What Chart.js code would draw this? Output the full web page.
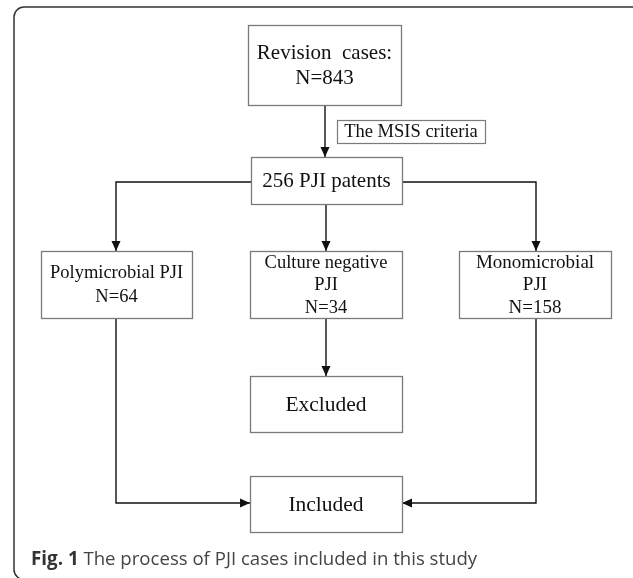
<!DOCTYPE html>
<html>
<head>
<meta charset="utf-8">
<script src="https://cdn.jsdelivr.net/npm/chart.js@4.4.1/dist/chart.umd.min.js"></script>
<style>
  html, body { margin: 0; padding: 0; background: #fff; }
  #wrap { width: 633px; height: 578px; }
</style>
</head>
<body>
<div id="wrap"><canvas id="flow" width="633" height="578"></canvas></div>
<script>
// Datos del diagrama
const stageNames = ['Revision  cases:', 'PJI patents', 'Polymicrobial PJI', 'Culture negative PJI', 'Monomicrobial PJI', 'Excluded', 'Included'];
const stageCounts = [843, 256, 64, 34, 158, null, null];
const criteriaLabel = 'The MSIS criteria';
const captionBold = 'Fig. 1';
const captionText = ' The process of PJI cases included in this study';

// Texto de cada caja (armado desde los datos)
const boxText = [
  [stageNames[0], 'N=' + stageCounts[0]],
  [stageCounts[1] + ' ' + stageNames[1]],
  [stageNames[2], 'N=' + stageCounts[2]],
  ['Culture negative', 'PJI', 'N=' + stageCounts[3]],
  ['Monomicrobial', 'PJI', 'N=' + stageCounts[4]],
  [stageNames[5]],
  [stageNames[6]]
];

// Posiciones de las cajas en unidades de la escala (x1, y1, x2, y2)
const layout = {
  boxes: [
    [248, 25, 401, 105],
    [251, 157, 402, 204],
    [41, 251, 192, 318],
    [250, 251, 402, 318],
    [459, 251, 611, 318],
    [250, 376, 402, 432],
    [250, 476, 402, 532]
  ],
  lineGap: [25, 0, 24, 22.5, 22.5, 0, 0],
  fontSize: [21, 21, 18.5, 18.5, 19, 21.5, 21.5],
  criteriaBox: [337, 120, 485, 143],
  connectors: [
    [[325, 105], [325, 157]],
    [[251, 182], [116, 182], [116, 251]],
    [[402, 182], [536, 182], [536, 251]],
    [[326, 204], [326, 251]],
    [[326, 318], [326, 376]],
    [[116, 318], [116, 503], [250, 503]],
    [[536, 318], [536, 503], [402, 503]]
  ]
};

const datasets = layout.connectors.map(function(pts) {
  return {
    data: pts.map(function(p) { return { x: p[0], y: p[1] }; }),
    showLine: true,
    borderColor: '#111',
    borderWidth: 1.4,
    pointRadius: 0,
    fill: false,
    tension: 0
  };
});

const flowPlugin = {
  id: 'flowPlugin',
  afterDatasetsDraw: function(chart) {
    const ctx = chart.ctx;
    const xs = chart.scales.x;
    const ys = chart.scales.y;
    const px = function(v) { return xs.getPixelForValue(v); };
    const py = function(v) { return ys.getPixelForValue(v); };

    ctx.save();

    // Marco exterior redondeado
    ctx.strokeStyle = '#333';
    ctx.lineWidth = 1.5;
    ctx.beginPath();
    ctx.roundRect(px(14), py(7), px(650) - px(14), py(579.5) - py(7), 10);
    ctx.stroke();

    // Puntas de flecha
    ctx.fillStyle = '#111';
    layout.connectors.forEach(function(pts) {
      const a = pts[pts.length - 2], b = pts[pts.length - 1];
      const x1 = px(a[0]), y1 = py(a[1]), x2 = px(b[0]), y2 = py(b[1]);
      const ang = Math.atan2(y2 - y1, x2 - x1);
      const len = 10, half = 4.5;
      ctx.beginPath();
      ctx.moveTo(x2, y2);
      ctx.lineTo(x2 - len * Math.cos(ang) + half * Math.sin(ang), y2 - len * Math.sin(ang) - half * Math.cos(ang));
      ctx.lineTo(x2 - len * Math.cos(ang) - half * Math.sin(ang), y2 - len * Math.sin(ang) + half * Math.cos(ang));
      ctx.closePath();
      ctx.fill();
    });

    // Cajas con texto
    ctx.textAlign = 'center';
    ctx.textBaseline = 'middle';
    layout.boxes.forEach(function(b, i) {
      const x1 = px(b[0]), y1 = py(b[1]), x2 = px(b[2]), y2 = py(b[3]);
      ctx.fillStyle = '#fff';
      ctx.fillRect(x1, y1, x2 - x1, y2 - y1);
      ctx.strokeStyle = '#7a7a7a';
      ctx.lineWidth = 1.3;
      ctx.strokeRect(x1 + 0.5, y1 + 0.5, x2 - x1, y2 - y1);
      ctx.fillStyle = '#111';
      ctx.font = layout.fontSize[i] + 'px "Liberation Serif", "Times New Roman", serif';
      const lines = boxText[i];
      const gap = layout.lineGap[i];
      const cy = (y1 + y2) / 2 + 1;
      lines.forEach(function(t, k) {
        ctx.fillText(t, (x1 + x2) / 2, cy + (k - (lines.length - 1) / 2) * gap);
      });
    });

    // Etiqueta del criterio
    const c = layout.criteriaBox;
    ctx.fillStyle = '#fff';
    ctx.fillRect(px(c[0]), py(c[1]), px(c[2]) - px(c[0]), py(c[3]) - py(c[1]));
    ctx.strokeStyle = '#7a7a7a';
    ctx.lineWidth = 1.2;
    ctx.strokeRect(px(c[0]) + 0.5, py(c[1]) + 0.5, px(c[2]) - px(c[0]), py(c[3]) - py(c[1]));
    ctx.fillStyle = '#111';
    ctx.font = '18.5px "Liberation Serif", "Times New Roman", serif';
    ctx.fillText(criteriaLabel, (px(c[0]) + px(c[2])) / 2, (py(c[1]) + py(c[3])) / 2 + 1);

    // Pie de figura
    ctx.textAlign = 'left';
    ctx.fillStyle = '#333';
    ctx.font = 'bold 18.8px "Open Sans", sans-serif';
    const cx = px(31), cyCap = py(560);
    ctx.fillText(captionBold, cx, cyCap);
    const w = ctx.measureText(captionBold).width;
    ctx.fillStyle = '#444';
    ctx.font = '18.6px "Open Sans", sans-serif';
    ctx.fillText(captionText, cx + w, cyCap);

    ctx.restore();
  }
};

const chart = new Chart(document.getElementById('flow').getContext('2d'), {
  type: 'scatter',
  data: { datasets: datasets },
  options: {
    responsive: false,
    animation: false,
    layout: { padding: 0 },
    plugins: { legend: { display: false }, tooltip: { enabled: false } },
    scales: {
      x: { type: 'linear', min: 0, max: 633, display: false },
      y: { type: 'linear', min: 0, max: 578, reverse: true, display: false }
    }
  },
  plugins: [flowPlugin]
});
</script>
</body>
</html>
